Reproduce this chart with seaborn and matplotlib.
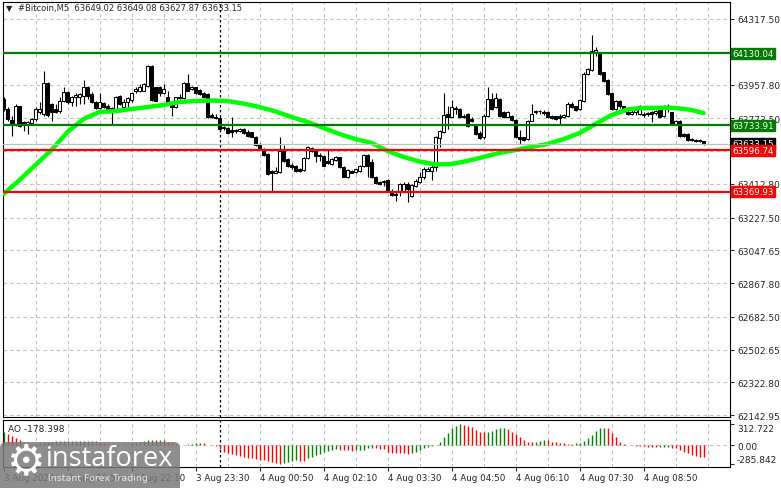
import numpy as np
import pandas as pd
import matplotlib
matplotlib.use("Agg")
import matplotlib.pyplot as plt
import seaborn as sns
from matplotlib.patches import FancyBboxPatch

# ---- data (5-minute bars, 3 Aug 19:30 .. 4 Aug 10:05) ----
opens = [63878, 63823, 63763, 63741, 63838, 63750, 63741, 63744, 63768, 63805,
         63796, 63964, 63851, 63823, 63810, 63869, 63915, 63860, 63887, 63887,
         63896, 63946, 63905, 63860, 63829, 63854, 63841, 63827, 63823, 63896,
         63836, 63860, 63873, 63920, 63924, 63924, 63951, 64061, 63942, 63942,
         63909, 63887, 63854, 63832, 63882, 63882, 63964, 63933, 63942, 63927,
         63909, 63905, 63790, 63781, 63774, 63726, 63719, 63708, 63708, 63700,
         63713, 63699, 63695, 63671, 63631, 63603, 63576, 63481, 63474, 63475,
         63594, 63549, 63517, 63512, 63494, 63488, 63554, 63594, 63594, 63572,
         63567, 63540, 63521, 63543, 63558, 63503, 63452, 63485, 63475, 63481,
         63512, 63572, 63530, 63448, 63420, 63420, 63433, 63360, 63356, 63375,
         63375, 63411, 63347, 63402, 63420, 63448, 63485, 63481, 63503, 63664,
         63695, 63796, 63781, 63821, 63823, 63787, 63796, 63768, 63732, 63691,
         63668, 63787, 63878, 63836, 63878, 63805, 63777, 63787, 63763, 63668,
         63668, 63658, 63759, 63805, 63810, 63805, 63805, 63783, 63783, 63783,
         63779, 63783, 63851, 63838, 63823, 63869, 64016, 64039, 64134, 64125,
         64025, 63984, 63911, 63823, 63869, 63838, 63805, 63798, 63809, 63796,
         63796, 63794, 63805, 63801, 63823, 63783, 63838, 63805, 63741, 63759,
         63686, 63686, 63659, 63653, 63651, 63649.02]
highs = [63887, 63836, 63787, 63851, 63841, 63759, 63759, 63774, 63836, 63860,
         64034, 63970, 63854, 63851, 63887, 63942, 63924, 63896, 63909, 63909,
         63982, 63951, 63915, 63869, 63909, 63860, 63851, 63832, 63896, 63902,
         63878, 63887, 63915, 63942, 63960, 63964, 64066, 64065, 63946, 63951,
         63960, 63924, 63860, 63891, 63905, 63970, 64015, 63947, 63946, 63933,
         63915, 63909, 63799, 63796, 63787, 63732, 63726, 63781, 63715, 63719,
         63719, 63708, 63699, 63677, 63635, 63609, 63580, 63488, 63503, 63671,
         63627, 63554, 63525, 63517, 63499, 63561, 63622, 63616, 63603, 63580,
         63572, 63603, 63554, 63567, 63561, 63512, 63494, 63488, 63496, 63517,
         63576, 63576, 63549, 63457, 63430, 63433, 63439, 63384, 63371, 63415,
         63420, 63420, 63411, 63439, 63475, 63503, 63503, 63521, 63677, 63708,
         63909, 63841, 63873, 63841, 63829, 63796, 63799, 63777, 63735, 63704,
         63796, 63946, 63909, 63909, 63883, 63814, 63810, 63792, 63768, 63708,
         63671, 63763, 63851, 63818, 63818, 63818, 63814, 63790, 63787, 63796,
         63796, 63860, 63864, 63842, 63878, 64025, 64047, 64230, 64162, 64131,
         64028, 63988, 63915, 63875, 63875, 63842, 63814, 63823, 63827, 63845,
         63805, 63809, 63814, 63820, 63832, 63845, 63849, 63809, 63765, 63765,
         63692, 63692, 63666, 63659, 63659, 63649.08]
lows = [63814, 63759, 63677, 63732, 63726, 63704, 63686, 63737, 63759, 63796,
        63787, 63777, 63759, 63799, 63799, 63860, 63851, 63841, 63841, 63851,
        63851, 63878, 63854, 63823, 63823, 63829, 63814, 63741, 63818, 63847,
        63832, 63832, 63860, 63909, 63915, 63920, 63942, 63869, 63865, 63896,
        63905, 63851, 63787, 63829, 63878, 63878, 63920, 63927, 63905, 63902,
        63883, 63774, 63774, 63768, 63708, 63708, 63689, 63668, 63693, 63697,
        63686, 63671, 63668, 63622, 63600, 63567, 63463, 63375, 63470, 63472,
        63530, 63507, 63494, 63475, 63477, 63485, 63549, 63585, 63530, 63540,
        63508, 63521, 63517, 63540, 63499, 63448, 63444, 63470, 63470, 63477,
        63507, 63452, 63444, 63411, 63408, 63402, 63371, 63347, 63320, 63347,
        63366, 63311, 63338, 63393, 63415, 63439, 63481, 63433, 63485, 63613,
        63689, 63713, 63777, 63796, 63774, 63774, 63726, 63750, 63682, 63658,
        63658, 63777, 63818, 63829, 63781, 63777, 63774, 63759, 63664, 63631,
        63649, 63653, 63755, 63796, 63796, 63792, 63772, 63769, 63765, 63741,
        63772, 63778, 63827, 63814, 63820, 63864, 64010, 64034, 64116, 64010,
        63973, 63900, 63820, 63820, 63831, 63809, 63790, 63790, 63790, 63790,
        63778, 63783, 63750, 63790, 63772, 63778, 63805, 63736, 63736, 63668,
        63670, 63650, 63648, 63644, 63640, 63627.87]
closes = [63823, 63768, 63744, 63838, 63732, 63741, 63750, 63768, 63823, 63823,
          63964, 63792, 63805, 63805, 63869, 63915, 63860, 63891, 63902, 63905,
          63942, 63896, 63860, 63829, 63860, 63832, 63823, 63818, 63891, 63851,
          63863, 63882, 63909, 63933, 63942, 63960, 64061, 63873, 63869, 63909,
          63933, 63854, 63832, 63887, 63891, 63964, 63924, 63946, 63909, 63905,
          63887, 63777, 63777, 63774, 63713, 63719, 63693, 63695, 63700, 63713,
          63693, 63677, 63671, 63627, 63603, 63572, 63466, 63474, 63485, 63594,
          63536, 63512, 63503, 63481, 63481, 63554, 63613, 63607, 63567, 63565,
          63512, 63525, 63549, 63558, 63503, 63452, 63488, 63474, 63492, 63512,
          63572, 63512, 63448, 63415, 63411, 63430, 63375, 63353, 63353, 63411,
          63411, 63384, 63406, 63430, 63452, 63494, 63494, 63503, 63668, 63700,
          63792, 63781, 63832, 63829, 63781, 63777, 63732, 63759, 63686, 63664,
          63787, 63878, 63823, 63882, 63787, 63781, 63805, 63763, 63668, 63658,
          63655, 63759, 63796, 63814, 63814, 63799, 63778, 63776, 63769, 63776,
          63790, 63851, 63833, 63820, 63875, 64016, 64043, 64144, 64149, 64016,
          63979, 63906, 63823, 63869, 63838, 63814, 63796, 63805, 63820, 63842,
          63790, 63801, 63794, 63812, 63778, 63842, 63831, 63741, 63759, 63673,
          63673, 63655, 63653, 63650, 63648, 63633.15]

# moving average line, read every 4th bar
ma_bars = [0, 4, 8, 12, 16, 20, 24, 28, 32, 36, 40, 44, 48, 52, 56, 60, 64, 68,
           72, 76, 80, 84, 88, 92, 96, 100, 104, 108, 112, 116, 120, 124, 128,
           132, 136, 140, 144, 148, 152, 156, 160, 164, 168, 172, 175]
ma_values = [63356, 63433, 63516, 63598, 63697, 63768, 63807, 63812, 63823,
             63834, 63845, 63862, 63867, 63870, 63867, 63853, 63834, 63810,
             63779, 63752, 63719, 63686, 63658, 63637, 63593, 63560, 63535,
             63519, 63521, 63538, 63560, 63582, 63598, 63615, 63631, 63658,
             63691, 63741, 63790, 63821, 63829, 63830, 63829, 63818, 63801]

# Awesome Oscillator
ao_values = [200, 165, 140, 110, 70, 30, 12, 8, 15, 25,
             35, 45, 50, 55, 56, 58, 55, 58, 60, 61,
             63, 60, 62, 55, 45, 35, 20, 10, 5, 8,
             12, 18, 25, 30, 40, 55, 70, 80, 75, 80,
             70, 50, 25, 10, 3, 2, 10, 20, 25, 30,
             25, 5, -5, -20, -60, -110, -125, -140, -150, -165,
             -175, -190, -195, -210, -220, -230, -245, -260, -275, -285.842,
             -275, -260, -245, -230, -235, -240, -200, -175, -155, -135,
             -110, -90, -75, -65, -70, -75, -80, -85, -80, -78,
             -75, -50, -45, -50, -60, -65, -100, -115, -118, -122,
             -124, -128, -115, -100, -75, -50, -25, -15, 0, 50,
             115, 185, 250, 290, 312.722, 300, 290, 275, 225, 200,
             190, 200, 215, 235, 250, 260, 235, 200, 165, 115,
             75, 50, 40, 50, 65, 75, 70, 50, 40, 35,
             25, 15, 12, 25, 35, 65, 100, 150, 215, 250,
             260, 250, 175, 115, 50, 15, 2, -5, -10, -12,
             -15, -25, -30, -35, -30, -28, -25, -40, -50, -75,
             -100, -125, -150, -165, -175, -178.398]

green_levels = [64130.04, 63733.91]
red_levels = [63596.74, 63369.93]
last_price = 63633.15
price_ticks = [64317.50, 64137.65, 63957.80, 63773.50, 63592.65, 63412.80,
               63227.50, 63047.65, 62867.80, 62682.50, 62502.65, 62322.80,
               62142.95]
# tick labels that sit fully under a level box are not visible on the chart
hidden_ticks = [64137.65, 63592.65]
time_ticks = [0, 16, 32, 48, 64, 80, 96, 112, 128, 144, 160]
time_labels = ["3 Aug 2024", "3 Aug 20:50", "3 Aug 22:10", "3 Aug 23:30",
               "4 Aug 00:50", "4 Aug 02:10", "4 Aug 03:30", "4 Aug 04:50",
               "4 Aug 06:10", "4 Aug 07:30", "4 Aug 08:50"]
day_start_bar = 54

df = pd.DataFrame({"open": opens, "high": highs, "low": lows, "close": closes})
df["bar"] = np.arange(len(df))

sns.set_style("white")
plt.rcParams["font.family"] = ["DejaVu Sans"]

W, H = 781, 489
fig = plt.figure(figsize=(W / 100, H / 100), dpi=100)


def px_box(x0, y0, x1, y1):
    return [x0 / W, 1 - y1 / H, (x1 - x0) / W, (y1 - y0) / H]


ax = fig.add_axes(px_box(3, 3, 730, 418))
ax_ao = fig.add_axes(px_box(3, 421, 730, 468))

grid_kw = dict(color="#c0c0c0", lw=0.8, ls=(0, (3, 3)), zorder=1)
for a in (ax, ax_ao):
    for k in range(8, 182, 8):
        a.axvline(k, **grid_kw)
    a.axvline(day_start_bar, color="black", lw=0.9, ls=(0, (2, 2)), zorder=2)
    a.set_xlim(-0.125, 181.625)
    for s in a.spines.values():
        s.set_color("black")
        s.set_linewidth(0.8)

for p in price_ticks:
    ax.axhline(p, **grid_kw)

# candles
ax.vlines(df["bar"], df["low"], df["high"], color="black", lw=0.8, zorder=3)
body_low = df[["open", "close"]].min(axis=1)
body_h = (df["close"] - df["open"]).abs().clip(lower=4)
body_fc = np.where(df["close"] >= df["open"], "white", "black")
ax.bar(df["bar"], body_h, bottom=body_low, width=0.6, color=body_fc,
       edgecolor="black", linewidth=0.75, zorder=4)

sns.lineplot(x=ma_bars, y=ma_values, ax=ax, color="#00ff00", linewidth=3.2,
             zorder=5)

ax.axhline(last_price, color="#c0c0c0", lw=0.9, zorder=5)
for lv in green_levels:
    ax.axhline(lv, color="#007a00", lw=1.6, zorder=6)
for lv in red_levels:
    ax.axhline(lv, color="#ff0000", lw=1.6, zorder=6)

ax.set_ylim(62132.1, 64410.8)
ax.yaxis.tick_right()
ax.set_yticks(price_ticks)
ax.set_yticklabels(["" if p in hidden_ticks else f"{p:.2f}" for p in price_ticks])
ax.tick_params(axis="y", length=3, width=0.8, pad=2, labelsize=6.5, right=True)
ax.tick_params(axis="x", bottom=False, labelbottom=False)
ax.set_xlabel("")
ax.set_ylabel("")

ytrans = ax.get_yaxis_transform()
label_kw = dict(transform=ytrans, ha="left", va="center", fontsize=6.3,
                color="white", clip_on=False)
ax.text(1.0035, last_price, f"{last_price:.2f}", zorder=7,
        bbox=dict(boxstyle="square,pad=0.12", fc="black", ec="black"), **label_kw)
for lv in green_levels:
    ax.text(1.0035, lv, f"{lv:.2f}", zorder=8,
            bbox=dict(boxstyle="square,pad=0.12", fc="#007a00", ec="#007a00"), **label_kw)
for lv in red_levels:
    ax.text(1.0035, lv, f"{lv:.2f}", zorder=8,
            bbox=dict(boxstyle="square,pad=0.12", fc="#ff0000", ec="#ff0000"), **label_kw)

# AO panel
ao = np.array(ao_values)
ao_up = np.r_[True, ao[1:] > ao[:-1]]
ao_colors = np.where(ao_up, "#008000", "#ff0000")
ax_ao.axhline(0, **grid_kw)
ax_ao.vlines(np.arange(len(ao)), 0, ao, colors=ao_colors, lw=1.0, zorder=3)
ax_ao.set_ylim(-328, 376)
ax_ao.yaxis.tick_right()
ax_ao.set_yticks([312.722, 0, -285.842])
ao_labels = ax_ao.set_yticklabels(["312.722", "0.00", "-285.842"])
ao_labels[0].set_va("top")
ao_labels[2].set_va("bottom")
ax_ao.tick_params(axis="y", length=3, width=0.8, pad=2, labelsize=6.5, right=True)
ax_ao.set_xticks(time_ticks)
ax_ao.set_xticklabels(time_labels, ha="left")
ax_ao.tick_params(axis="x", length=3, width=0.8, pad=1.5, labelsize=6.3, bottom=True)
ax_ao.text(5 / 727, 1 - 9 / 47, "AO -178.398", transform=ax_ao.transAxes,
           fontsize=6.5, va="center", ha="left")

# chart header
fig.text(6 / W, 1 - 9 / H, "\u25bc", fontsize=6, va="center", ha="left")
fig.text(18 / W, 1 - 9 / H, "#Bitcoin,M5  63649.02 63649.08 63627.87 63633.15",
         fontsize=6.0, va="center", ha="left")

# watermark
inch = fig.dpi_scale_trans
fig.patches.append(FancyBboxPatch((0, -0.1), 1.8, 0.56,
                                  boxstyle="round,pad=0,rounding_size=0.06",
                                  transform=inch, fc="#7a7a7a", ec="none",
                                  alpha=0.85, zorder=10, figure=fig))
fig.text(0.265, 0.27, "\u2699", transform=inch, fontsize=31, color="white",
         ha="center", va="center", zorder=11)
fig.text(0.46, 0.30, "instaforex", transform=inch, fontsize=19.5, color="white",
         ha="left", va="center", family="Open Sans", zorder=11)
fig.text(0.48, 0.10, "Instant Forex Trading", transform=inch, fontsize=6.8,
         color="#e8e8e8", ha="left", va="center", zorder=11)

fig.savefig("out.png", dpi=100)
